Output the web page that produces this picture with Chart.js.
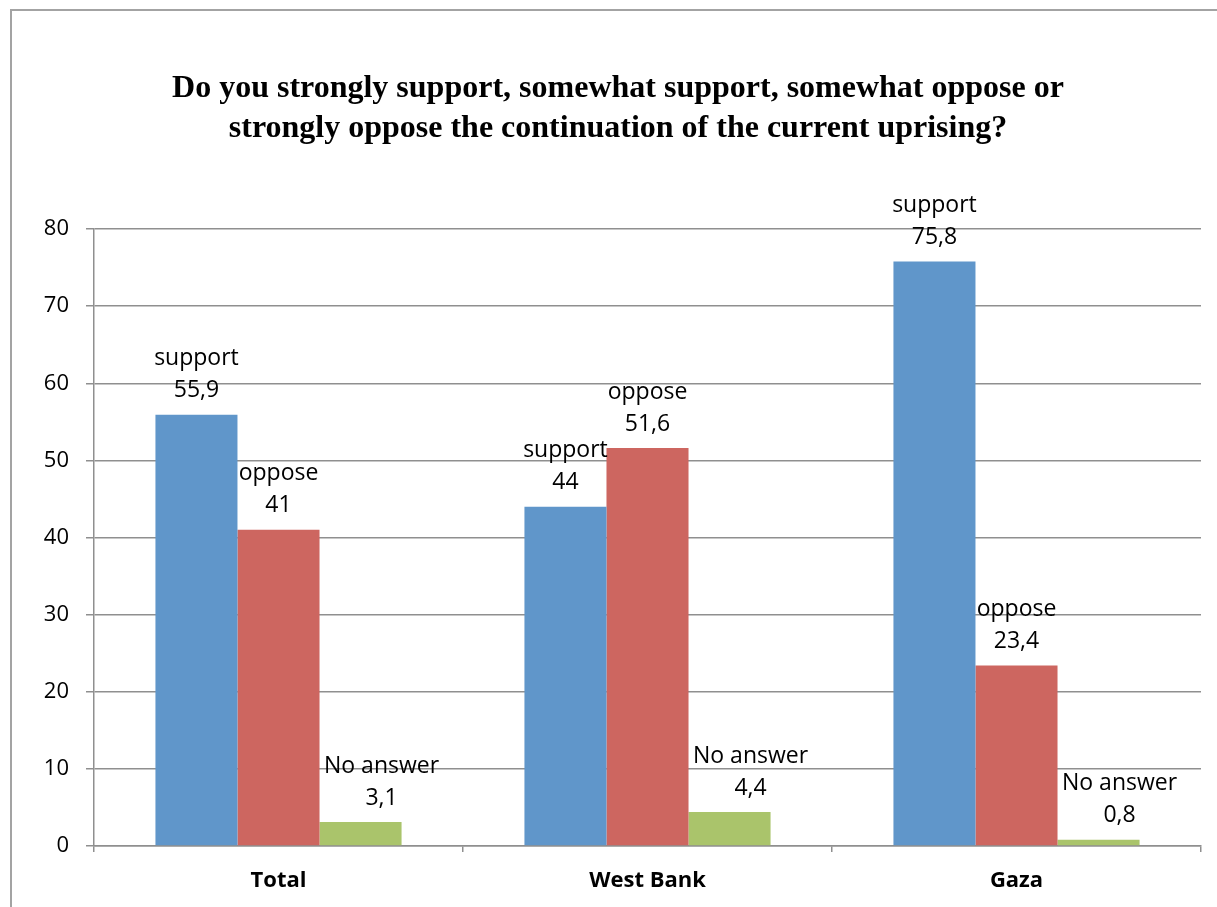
<!DOCTYPE html>
<html>
<head>
<meta charset="utf-8">
<script src="https://cdn.jsdelivr.net/npm/chart.js@4.4.0/dist/chart.umd.min.js"></script>
<style>
  body{margin:0;background:#fff;overflow:hidden;}
  #wrap{position:relative;width:1217px;height:907px;}
  #frame{position:absolute;left:10px;top:9px;width:1300px;height:1000px;border-left:2px solid #a3a3a3;border-top:2px solid #a3a3a3;}
  canvas{position:absolute;left:0;top:0;}
</style>
</head>
<body>
<div id="wrap">
  <div id="frame"></div>
  <canvas id="grafico" width="1217" height="907"></canvas>
</div>
<script>
// dados
var categorias=["Total","West Bank","Gaza"];
var apoio=[55.9,44,75.8];
var oposicao=[41,51.6,23.4];
var semResposta=[3.1,4.4,0.8];
var nomesSeries=["support","oppose","No answer"];
var titulo=["Do you strongly support, somewhat support, somewhat oppose or","strongly oppose the continuation of the current uprising?"];

var cores=["#6096ca","#cd6660","#aac46b"];
var fonteTexto="'Open Sans', sans-serif";

// rotulos em cima das barras
var rotulos={
    id:"rotulos",
    afterDatasetsDraw(chart){
        var ctx=chart.ctx;
        ctx.save();
        ctx.fillStyle="#000";
        ctx.font="23px "+fonteTexto;
        ctx.textAlign="center";
        ctx.textBaseline="middle";
        chart.data.datasets.forEach((ds,i)=>{
            var meta=chart.getDatasetMeta(i);
            var dx=i==2 ? 21 : 0;
            meta.data.forEach((bar,j)=>{
                var v=String(ds.data[j]).replace(".",",");
                ctx.fillText(v,bar.x+dx,bar.y-24);
                ctx.fillText(nomesSeries[i],bar.x+dx,bar.y-56);
            });
        });
        ctx.restore();
    }
};

var dados={
    labels:categorias,
    datasets:[
        {label:nomesSeries[0],data:apoio,backgroundColor:cores[0]},
        {label:nomesSeries[1],data:oposicao,backgroundColor:cores[1]},
        {label:nomesSeries[2],data:semResposta,backgroundColor:cores[2]}
    ]
};

var config={
    type:"bar",
    data:dados,
    options:{
        responsive:false,
        animation:false,
        layout:{padding:{left:35,right:16,top:0,bottom:0}},
        datasets:{bar:{categoryPercentage:0.667,barPercentage:1,borderWidth:0}},
        plugins:{
            legend:{display:false},
            tooltip:{enabled:false},
            title:{
                display:true,
                text:titulo,
                color:"#000",
                font:{family:"'Liberation Serif', serif",size:32,weight:"bold",lineHeight:1.25},
                padding:{top:69,bottom:80}
            }
        },
        scales:{
            x:{
                offset:true,
                grid:{offset:true,drawOnChartArea:false,drawTicks:true,tickLength:6,color:"#8f8f8f",lineWidth:1.5},
                border:{color:"#8f8f8f",width:1.5},
                ticks:{color:"#000",font:{family:fonteTexto,size:22,weight:"bold"},padding:16},
                afterFit(s){s.height=61;}
            },
            y:{
                min:0,max:80,
                ticks:{stepSize:10,color:"#000",font:{family:fonteTexto,size:22},padding:17},
                grid:{color:"#8f8f8f",lineWidth:1.5,tickLength:8},
                border:{color:"#8f8f8f",width:1.5},
                afterFit(s){s.width=59;}
            }
        }
    },
    plugins:[rotulos]
};

var g1=new Chart(document.getElementById("grafico").getContext("2d"),config);
</script>
</body>
</html>
